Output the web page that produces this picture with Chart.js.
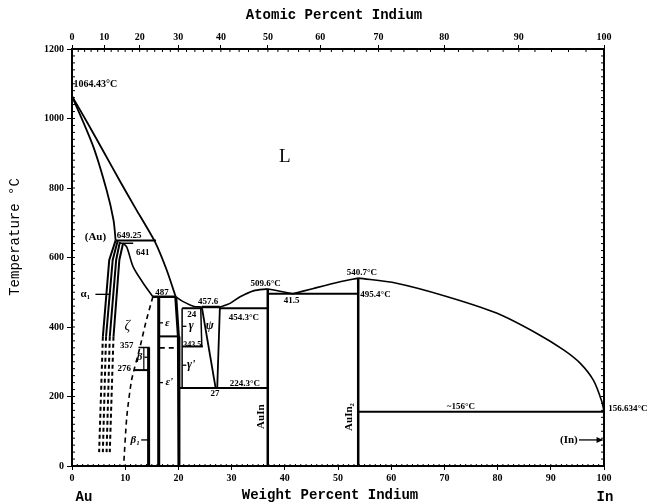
<!DOCTYPE html>
<html>
<head>
<meta charset="utf-8">
<script src="https://cdn.jsdelivr.net/npm/chart.js@4.4.1/dist/chart.umd.min.js"></script>
<style>
  html, body { margin: 0; padding: 0; background: #fff; }
</style>
</head>
<body>
<canvas id="chart" width="662" height="504"></canvas>
<script>
// compositions in weight percent In, temperatures in °C
const atomicTicks = [0, 10, 20, 30, 40, 50, 60, 70, 80, 90, 100];
const weightTicks = [0, 10, 20, 30, 40, 50, 60, 70, 80, 90, 100];
const tempTicks = [0, 200, 400, 600, 800, 1000, 1200];

// liquidus / solidus curves
const liquidusAu = [[0, 1064.43], [3, 985], [6, 903], [9, 820], [12, 740], [15.6, 645], [17.8, 564], [19.5, 487]];
const solidusAu = [[0, 1064.43], [4, 919], [6.5, 794], [7.8, 708], [8.2, 649.25]];
const liquidus487 = [[19.5, 487], [20.9, 473], [22.8, 460], [24.4, 457.6]];
const liquidusAuIn = [[27.8, 457.6], [29.7, 468], [31.6, 487], [34.1, 504], [36.8, 509.6]];
const liquidusEut = [[36.8, 509.6], [39.1, 503], [41.5, 495.4]];
const liquidusAuIn2 = [[41.5, 495.4], [45.4, 511], [50.4, 530], [53.8, 540.7]];
const liquidusIn = [[53.8, 540.7], [61, 526], [70.4, 488], [79.8, 440], [87.3, 382], [92.4, 334], [95.5, 296], [98, 247], [99.6, 185], [100, 156.634]];

// (Au) / alpha1 / zeta boundaries
const solvus1 = [[8.2, 649.25], [7.0, 593], [5.8, 372]];
const solvus2 = [[8.6, 649.25], [7.65, 593], [6.4, 372]];
const solvus3 = [[9.0, 645], [8.3, 593], [7.1, 372]];
const solvus4 = [[9.6, 641], [8.9, 593], [7.8, 372]];
const solvus1Dash = [[5.8, 372], [5.1, 40]];
const solvus2Dash = [[6.4, 372], [5.8, 40]];
const solvus3Dash = [[7.1, 372], [6.5, 40]];
const solvus4Dash = [[7.8, 372], [7.1, 40]];
const zetaRight = [[9.6, 641], [10.3, 630], [11.5, 573], [13.4, 526], [15.2, 487]];
const zetaDash = [[15.2, 487], [13.9, 415], [12.8, 343], [11.2, 247], [10.3, 142], [9.7, 0]];

// invariant horizontals
const iso649 = [[8.2, 649.25], [15.8, 649.25]];
const iso641 = [[8.9, 641], [11.5, 641]];
const iso487 = [[15.2, 487], [19.5, 487]];
const iso357 = [[12.5, 341], [14.6, 341]];
const iso276 = [[11.7, 276], [14.4, 276]];
const isoEps = [[16.3, 373], [20.0, 373]];
const isoEpsDash = [[16.5, 340], [19.9, 340]];
const iso24 = [[20.7, 454], [24.4, 454]];
const iso3435 = [[20.7, 344], [24.6, 344]];
const iso4576 = [[24.4, 457.6], [27.8, 457.6]];
const iso4543 = [[27.8, 454.3], [36.8, 454.3]];
const iso2243 = [[20.3, 224.3], [36.8, 224.3]];
const iso4954 = [[36.8, 495.4], [53.8, 495.4]];
const iso156 = [[53.8, 156], [100, 156]];

// phase verticals
const betaLine = [[14.4, 341], [14.4, 0]];
const betaThin = [[13.5, 341], [13.5, 276]];
const epsLeft = [[16.3, 487], [16.3, 0]];
const epsRight = [[19.5, 487], [20.0, 373], [20.1, 0]];
const gammaLeft = [[20.7, 454], [20.7, 224.3]];
const gammaRight = [[24.2, 454], [24.4, 344]];
const psiLeft = [[24.4, 457.6], [27.0, 224.3]];
const psiRight = [[27.8, 457.6], [27.3, 224.3]];
const auIn = [[36.8, 509.6], [36.8, 0]];
const auIn2 = [[53.8, 540.7], [53.8, 0]];

// small pointer lines beside labels
const pointers = [
  [[4.4, 494], [7.2, 494]],
  [[13.0, 75], [14.3, 75]],
  [[95.3, 75], [99.7, 75]],
  [[16.4, 412], [17.1, 412]],
  [[16.4, 240], [17.1, 240]],
  [[20.7, 402], [21.5, 402]],
  [[20.7, 290], [21.5, 290]],
  [[13.6, 313], [14.4, 313]]
];

const SERIF = "'Liberation Serif', 'DejaVu Serif', serif";
const MONO = "'Liberation Mono', 'DejaVu Sans Mono', monospace";

// text on the diagram: [text, wt%, °C, align, font]
const notes = [
  ['1064.43°C', 0.3, 1099, 'left', 'bold 10px ' + SERIF],
  ['L', 40.0, 889, 'center', '19px ' + SERIF],
  ['(Au)', 4.4, 659, 'center', 'bold 11px ' + SERIF],
  ['649.25', 8.4, 662, 'left', 'bold 9px ' + SERIF],
  ['641', 13.3, 613, 'center', 'bold 9px ' + SERIF],
  ['α₁', 2.5, 494, 'center', 'bold 11px ' + SERIF],
  ['ζ', 10.4, 403, 'center', 'italic 14px ' + SERIF],
  ['487', 16.9, 500, 'center', 'bold 9px ' + SERIF],
  ['ε', 17.9, 412, 'center', 'italic bold 11px ' + SERIF],
  ["ε'", 18.3, 240, 'center', 'italic bold 11px ' + SERIF],
  ['357', 10.3, 345, 'center', 'bold 9px ' + SERIF],
  ['276', 9.8, 280, 'center', 'bold 9px ' + SERIF],
  ['β', 12.7, 313, 'center', 'italic bold 11px ' + SERIF],
  ['β₁', 11.9, 75, 'center', 'italic bold 11px ' + SERIF],
  ['24', 22.5, 436, 'center', 'bold 9px ' + SERIF],
  ['γ', 22.4, 402, 'center', 'italic bold 12px ' + SERIF],
  ['343.5', 22.6, 349, 'center', 'bold 8px ' + SERIF],
  ["γ'", 22.4, 290, 'center', 'italic bold 12px ' + SERIF],
  ['ψ', 25.9, 402, 'center', 'italic bold 12px ' + SERIF],
  ['457.6', 25.6, 474, 'center', 'bold 9px ' + SERIF],
  ['454.3°C', 32.3, 428, 'center', 'bold 9px ' + SERIF],
  ['224.3°C', 32.5, 238, 'center', 'bold 9px ' + SERIF],
  ['27', 26.9, 207, 'center', 'bold 9px ' + SERIF],
  ['509.6°C', 36.4, 526, 'center', 'bold 9px ' + SERIF],
  ['41.5', 41.3, 476, 'center', 'bold 9px ' + SERIF],
  ['540.7°C', 54.5, 555, 'center', 'bold 9px ' + SERIF],
  ['495.4°C', 54.2, 493, 'left', 'bold 9px ' + SERIF],
  ['~156°C', 73.1, 170, 'center', 'bold 9px ' + SERIF],
  ['156.634°C', 100.8, 166, 'left', 'bold 9px ' + SERIF],
  ['(In)', 93.4, 74, 'center', 'bold 11px ' + SERIF]
];
const sideNotes = [
  ['AuIn', 35.5, 142],
  ['AuIn₂', 52.1, 141]
];

function atomicToWeight(a) {
  const inMass = a * 114.82, auMass = (100 - a) * 196.97;
  return 100 * inMass / (inMass + auMass);
}

function line(points, width, dash, tension) {
  return {
    data: points.map(p => ({ x: p[0], y: p[1] })),
    showLine: true,
    pointRadius: 0,
    borderColor: '#000',
    borderWidth: width,
    borderDash: dash || [],
    tension: tension || 0,
    fill: false
  };
}

const datasets = [
  line(liquidusAu, 1.8, null, 0.2),
  line(solidusAu, 1.8, null, 0.3),
  line(liquidus487, 1.6, null, 0.3),
  line(liquidusAuIn, 1.6, null, 0.3),
  line(liquidusEut, 1.6, null, 0.3),
  line(liquidusAuIn2, 1.6, null, 0.3),
  line(liquidusIn, 1.6, null, 0.3),
  line(solvus1, 2), line(solvus2, 2), line(solvus3, 2), line(solvus4, 2),
  line(solvus1Dash, 2, [4, 3]), line(solvus2Dash, 2, [4, 3]),
  line(solvus3Dash, 2, [4, 3]), line(solvus4Dash, 2, [4, 3]),
  line(zetaRight, 1.6, null, 0.3),
  line(zetaDash, 1.6, [5, 4], 0.2),
  line(iso649, 2), line(iso641, 1.5), line(iso487, 2.5),
  line(iso357, 1.5), line(iso276, 2), line(isoEps, 2),
  line(isoEpsDash, 1.8, [5, 4]),
  line(iso24, 2), line(iso3435, 2), line(iso4576, 2.5), line(iso4543, 2),
  line(iso2243, 2), line(iso4954, 2), line(iso156, 2),
  line(betaLine, 3), line(betaThin, 1.2), line(epsLeft, 3), line(epsRight, 3),
  line(gammaLeft, 1.5), line(gammaRight, 1.5), line(psiLeft, 1.8), line(psiRight, 1.8),
  line(auIn, 2.5), line(auIn2, 2.5)
].concat(pointers.map(p => line(p, 1.3)));

const decor = {
  id: 'decor',
  afterDraw(chart) {
    const { ctx, chartArea: a, scales: { x, y } } = chart;
    const px = v => x.getPixelForValue(v);
    const py = v => y.getPixelForValue(v);
    ctx.save();
    ctx.strokeStyle = '#000';
    ctx.fillStyle = '#000';

    // right-hand frame line
    ctx.lineWidth = 2;
    ctx.beginPath();
    ctx.moveTo(a.right, a.top);
    ctx.lineTo(a.right, a.bottom);
    ctx.stroke();

    // minor ticks
    ctx.lineWidth = 1;
    ctx.beginPath();
    for (let t = 0; t <= 1200; t += 20) {
      ctx.moveTo(a.left, py(t)); ctx.lineTo(a.left + 3, py(t));
      ctx.moveTo(a.right, py(t)); ctx.lineTo(a.right - 3, py(t));
    }
    for (let w = 0; w <= 100; w += 1) {
      ctx.moveTo(px(w), a.bottom); ctx.lineTo(px(w), a.bottom - 2);
    }
    for (let at = 0; at <= 100; at += 2) {
      const xx = px(atomicToWeight(at));
      ctx.moveTo(xx, a.top); ctx.lineTo(xx, a.top + 3);
    }
    ctx.stroke();

    // arrow head for (In)
    ctx.beginPath();
    ctx.moveTo(px(99.8), py(75));
    ctx.lineTo(px(98.6), py(75) - 3);
    ctx.lineTo(px(98.6), py(75) + 3);
    ctx.closePath();
    ctx.fill();

    // labels on the diagram
    ctx.textBaseline = 'middle';
    notes.forEach(([text, w, t, align, font]) => {
      ctx.font = font;
      ctx.textAlign = align;
      ctx.fillText(text, px(w), py(t));
    });
    ctx.font = 'bold 11px ' + SERIF;
    ctx.textAlign = 'center';
    sideNotes.forEach(([text, w, t]) => {
      ctx.save();
      ctx.translate(px(w), py(t));
      ctx.rotate(-Math.PI / 2);
      ctx.fillText(text, 0, 0);
      ctx.restore();
    });

    // axis titles
    ctx.font = 'bold 14px ' + MONO;
    ctx.fillText('Atomic Percent Indium', 334, 15);
    ctx.fillText('Weight Percent Indium', 330, 495);
    ctx.fillText('Au', 84, 497);
    ctx.fillText('In', 605, 497);
    ctx.font = '14px ' + MONO;
    ctx.save();
    ctx.translate(15, 237);
    ctx.rotate(-Math.PI / 2);
    ctx.fillText('Temperature °C', 0, 0);
    ctx.restore();
    ctx.restore();
  }
};

const tickFont = { family: SERIF, size: 10, weight: 'bold' };

new Chart(document.getElementById('chart'), {
  type: 'scatter',
  data: { datasets: datasets },
  options: {
    responsive: false,
    animation: false,
    layout: { padding: { left: 0, right: 58, top: 0, bottom: 0 } },
    plugins: { legend: { display: false }, tooltip: { enabled: false } },
    scales: {
      x: {
        type: 'linear', position: 'bottom', min: 0, max: 100,
        afterBuildTicks: s => { s.ticks = weightTicks.map(v => ({ value: v })); },
        afterFit: s => { s.height = 38; },
        grid: { drawOnChartArea: false, tickLength: 4, color: '#000' },
        border: { color: '#000', width: 2 },
        ticks: {
          font: tickFont, color: '#000', padding: 2, maxRotation: 0, autoSkip: false,
          callback: v => String(v)
        }
      },
      x2: {
        type: 'linear', position: 'top', min: 0, max: 100,
        afterBuildTicks: s => { s.ticks = atomicTicks.map(a => ({ value: atomicToWeight(a) })); },
        afterFit: s => { s.height = 49; },
        grid: { drawOnChartArea: false, tickLength: 4, color: '#000' },
        border: { color: '#000', width: 2 },
        ticks: {
          font: tickFont, color: '#000', padding: 2, maxRotation: 0, autoSkip: false,
          callback: (v, i) => String(atomicTicks[i])
        }
      },
      y: {
        type: 'linear', min: 0, max: 1200,
        afterBuildTicks: s => { s.ticks = tempTicks.map(v => ({ value: v })); },
        afterFit: s => { s.width = 72; },
        grid: { drawOnChartArea: false, tickLength: 5, color: '#000' },
        border: { color: '#000', width: 2 },
        ticks: {
          font: tickFont, color: '#000', padding: 3, autoSkip: false,
          callback: v => String(v)
        }
      }
    }
  },
  plugins: [decor]
});
</script>
</body>
</html>
